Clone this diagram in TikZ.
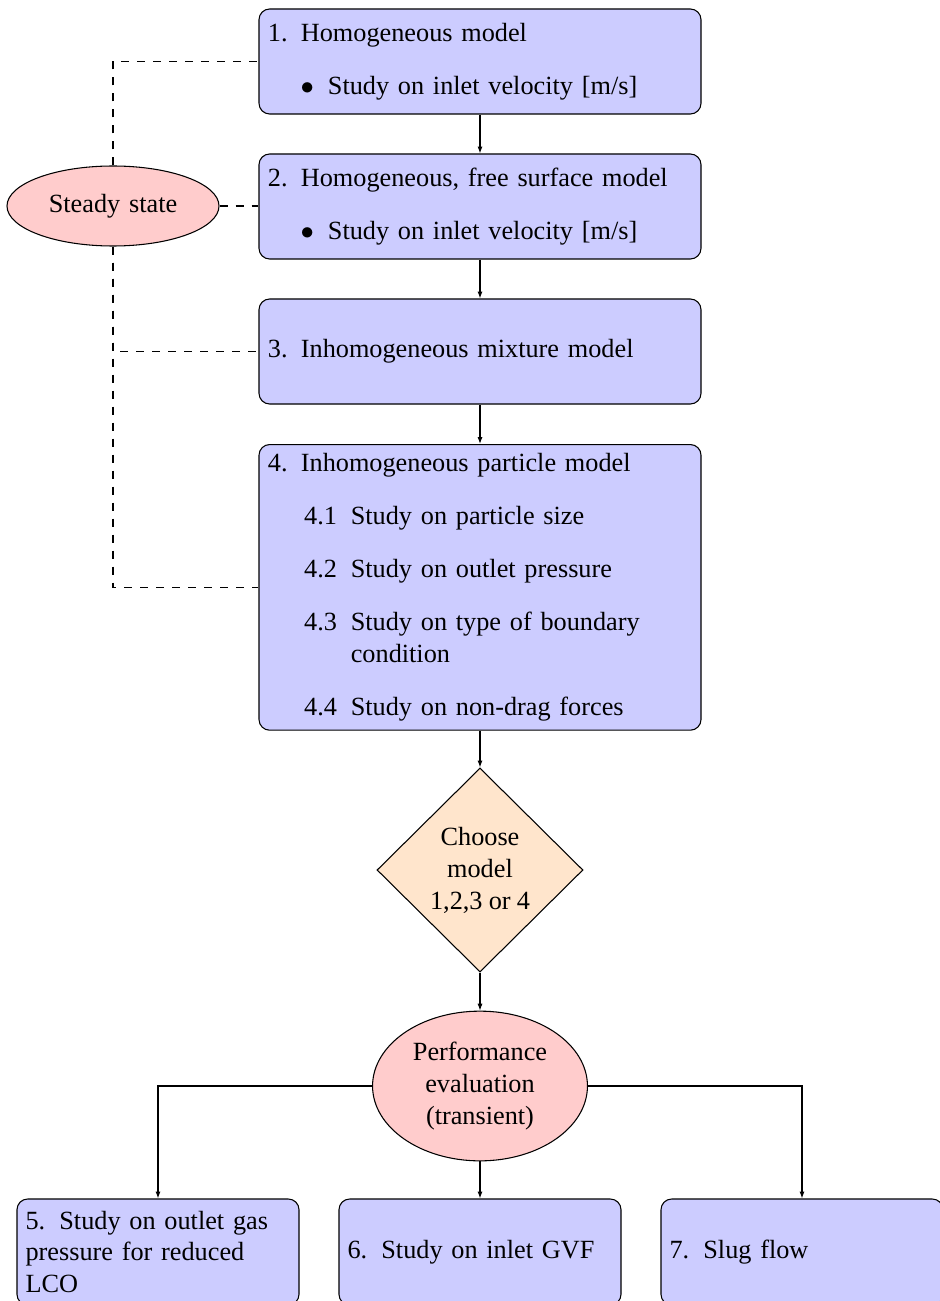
\documentclass[tikz,border=0pt]{standalone}
\usepackage{fontspec}
\setmainfont{Liberation Serif}[WordSpace=1.8]
\usetikzlibrary{shapes.geometric,arrows.meta}
\hyphenpenalty=10000
\exhyphenpenalty=10000
\newcommand{\lstitem}[3]{\leavevmode\hangindent=#2\hangafter=1\hspace*{#1}\makebox[\dimexpr#2-#1\relax][l]{#3}\ignorespaces}
\newcommand{\itemgap}{\par\vspace{7.875pt}\noindent}
\begin{document}
\begin{tikzpicture}[x=0.375pt,y=-0.375pt,
  every node/.style={font=\fontsize{9.85}{12}\selectfont},
  bigbox/.style={draw,fill=blue!20,rounded corners=4pt,text width=159.08pt,minimum height=39.375pt,inner sep=3.333pt,align=left},
  smallbox/.style={draw,fill=blue!20,rounded corners=4pt,text width=99.35pt,minimum height=39.75pt,inner sep=3.2pt,align=left},
  softoval/.style={ellipse,draw,fill=red!20,align=center,inner sep=3.333pt},
  decision/.style={diamond,draw,fill=orange!20,align=center,inner sep=0pt,minimum width=77.25pt,minimum height=76.5pt,
    font={\fontsize{9.85}{12}\selectfont\spaceskip=2.3pt plus 1pt\relax}},
  arr/.style={-{Latex[length=2.6pt,width=1.9pt]}},
  link/.style={dashed}]
\useasboundingbox (0,0) rectangle (940,1301);
\clip (0,0) rectangle (940,1301);

\node[bigbox] (m1) at (480,61.5) {\lstitem{0pt}{12.375pt}{1.}Homogeneous model\itemgap\lstitem{12.3pt}{22.5pt}{$\bullet$}Study on inlet velocity [m/s]};
\node[bigbox] (m2) at (480,206.5) {\lstitem{0pt}{12.375pt}{2.}Homogeneous, free surface model\itemgap\lstitem{12.3pt}{22.5pt}{$\bullet$}Study on inlet velocity [m/s]};
\node[bigbox] (m3) at (480,351.5) {\lstitem{0pt}{12.375pt}{3.}Inhomogeneous mixture model};
\node[bigbox,anchor=north] (m4) at (480,444) {\lstitem{0pt}{12.375pt}{4.}Inhomogeneous particle model\itemgap
\lstitem{13.6pt}{31.1pt}{4.1}Study on particle size\itemgap
\lstitem{13.6pt}{31.1pt}{4.2}Study on outlet pressure\itemgap
\lstitem{13.6pt}{31.1pt}{4.3}Study on type of boundary condition\itemgap
\lstitem{13.6pt}{31.1pt}{4.4}Study on non-drag forces};

\node[decision] (choose) at (480,870) {Choose\\model\\1,2,3 or 4};
\node[softoval] (perf) at (480,1086) {Performance\\evaluation\\(transient)};
\node[softoval,minimum width=79.5pt,minimum height=30pt,
  font={\fontsize{9.85}{12}\selectfont\spaceskip=3.3pt plus 1pt\relax}] (steady) at (113,206) {Steady state};

\node[smallbox] (s5) at (158,1252) {5.\hspace{5.3pt}Study on outlet gas pressure for reduced LCO};
\node[smallbox] (s6) at (480,1252) {6.\hspace{5.3pt}Study on inlet GVF};
\node[smallbox] (s7) at (802,1252) {7.\hspace{5.3pt}Slug flow};

\draw[arr] (m1) -- (m2);
\draw[arr] (m2) -- (m3);
\draw[arr] (m3) -- (m4);
\draw[arr] (m4) -- (choose);
\draw[arr] (choose) -- (perf);
\draw[arr] (perf) -- (s6);
\draw[arr] (perf.west) -| (s5.north);
\draw[arr] (perf.east) -| (s7.north);

\draw[link] (steady.north) |- (m1.west);
\draw[link] (steady.east) -- (steady.east -| m2.west);
\draw[link] (steady.south) |- (m3.west);
\draw[link] (steady.south) |- (m4.west);
\end{tikzpicture}
\end{document}
